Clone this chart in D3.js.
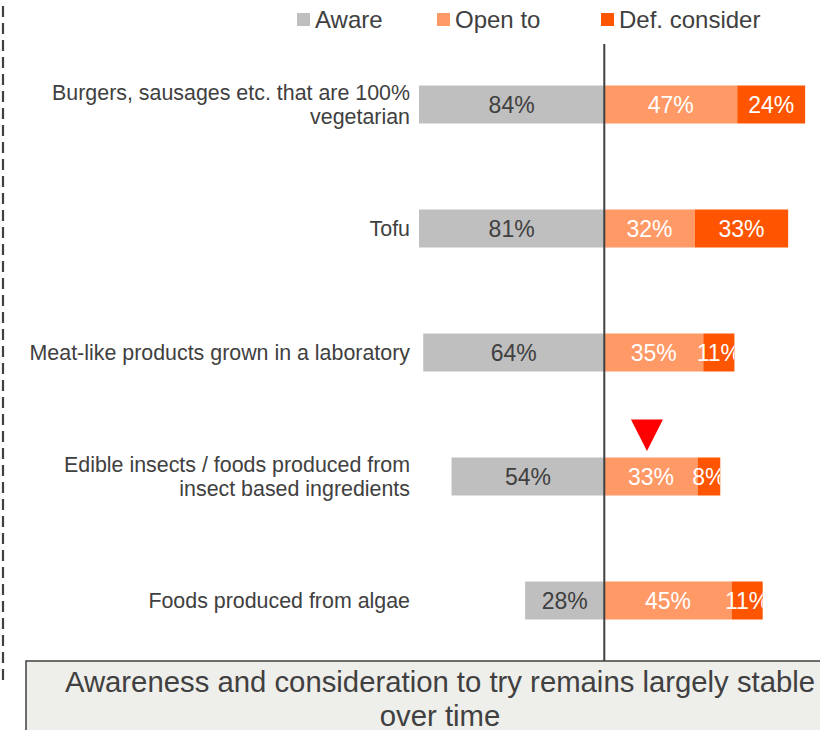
<!DOCTYPE html>
<html>
<head>
<meta charset="utf-8">
<script src="https://cdn.jsdelivr.net/npm/d3@7"></script>
<style>
  html, body { margin: 0; padding: 0; background: #ffffff; }
  svg { display: block; font-family: "Liberation Sans", Arial, sans-serif; }
</style>
</head>
<body>
<svg id="chart" width="820" height="730"></svg>
<script>
// ---- data ----
const categories = [
  ["Burgers, sausages etc. that are 100%", "vegetarian"],
  ["Tofu"],
  ["Meat-like products grown in a laboratory"],
  ["Edible insects / foods produced from", "insect based ingredients"],
  ["Foods produced from algae"]
];
const seriesNames = ["Aware", "Open to", "Def. consider"];
const aware = [84, 81, 64, 54, 28];
const openTo = [47, 32, 35, 33, 45];
const defConsider = [24, 33, 11, 8, 11];
const decreaseMarkers = [3]; // index of category with a decrease flag on "Open to"
const title = ["Awareness and consideration to try remains largely stable", "over time"];

// ---- layout ----
const colors = {"Aware": "#bfbfbf", "Open to": "#ff9966", "Def. consider": "#ff5500"};
const textColor = "#404040";
const svg = d3.select("#chart");
const catKeys = categories.map(c => c.join(" "));

const x = d3.scaleLinear().domain([-65.5, 76.5]).range([419, 820.7]).clamp(true);
const y = d3.scalePoint().domain(catKeys).range([104.5, 600.5]);
const barH = 38;

const rows = catKeys.map((k, i) => ({
  key: k, lines: categories[i], aware: aware[i], open: openTo[i], def: defConsider[i], i
}));

// dashed border at left
svg.append("line")
  .attr("x1", 3).attr("x2", 3).attr("y1", 6).attr("y2", 682)
  .attr("stroke", textColor).attr("stroke-width", 2.2)
  .attr("stroke-dasharray", "11,6");

// clip paths per row (labels clipped at bar end)
const defs = svg.append("defs");
rows.forEach(r => {
  defs.append("clipPath").attr("id", "clip" + r.i)
    .append("rect")
    .attr("x", x(-r.aware)).attr("y", y(r.key) - barH / 2)
    .attr("width", x(r.open + r.def) - x(-r.aware)).attr("height", barH);
});

const g = svg.append("g");
rows.forEach(r => {
  const cy = y(r.key);
  const segs = [
    {s: "Aware", x0: -r.aware, x1: 0, v: r.aware},
    {s: "Open to", x0: 0, x1: r.open, v: r.open},
    {s: "Def. consider", x0: r.open, x1: r.open + r.def, v: r.def}
  ];
  const rg = g.append("g");
  rg.selectAll("rect").data(segs).enter().append("rect")
    .attr("x", d => x(d.x0))
    .attr("y", cy - barH / 2)
    .attr("width", d => x(d.x1) - x(d.x0))
    .attr("height", barH)
    .attr("fill", d => colors[d.s]);
  const lg = rg.append("g").attr("clip-path", "url(#clip" + r.i + ")");
  lg.selectAll("text").data(segs).enter().append("text")
    .attr("x", d => (x(d.x0) + x(d.x1)) / 2)
    .attr("y", cy + 8)
    .attr("text-anchor", "middle")
    .attr("font-size", 23)
    .attr("fill", d => d.s === "Aware" ? textColor : "#ffffff")
    .text(d => d.v + "%");

  // category label
  const n = r.lines.length;
  const t = g.append("text")
    .attr("text-anchor", "end")
    .attr("font-size", 21.4)
    .attr("fill", textColor);
  r.lines.forEach((ln, j) => {
    t.append("tspan")
      .attr("x", 410)
      .attr("y", n === 1 ? cy + 7.5 : cy - 4.5 + j * 24)
      .text(ln);
  });
});

// decrease markers
decreaseMarkers.forEach(i => {
  const r = rows[i];
  const cx = (x(0) + x(r.open)) / 2 - 4;
  const top = y(r.key) - barH / 2 - 38;
  svg.append("path")
    .attr("d", `M${cx - 16},${top} L${cx + 16},${top} L${cx},${top + 31.5} Z`)
    .attr("fill", "#ff0000");
});

// center axis line
svg.append("line")
  .attr("x1", x(0)).attr("x2", x(0))
  .attr("y1", 44).attr("y2", 662)
  .attr("stroke", textColor).attr("stroke-width", 2);

// legend
const legendX = [297, 437, 601];
const lg = svg.append("g");
seriesNames.forEach((s, i) => {
  lg.append("rect").attr("x", legendX[i]).attr("y", 13).attr("width", 13).attr("height", 13)
    .attr("fill", colors[s]);
  lg.append("text").attr("x", legendX[i] + 18).attr("y", 27.5)
    .attr("font-size", 24).attr("fill", textColor).text(s);
});

// title box
svg.append("rect")
  .attr("x", 26).attr("y", 661).attr("width", 830).attr("height", 80)
  .attr("fill", "#eeeeea").attr("stroke", textColor).attr("stroke-width", 1.5);
const tt = svg.append("text").attr("text-anchor", "middle").attr("font-size", 29.3)
  .attr("fill", textColor);
title.forEach((ln, j) => {
  tt.append("tspan").attr("x", 440).attr("y", 692 + j * 34).text(ln);
});
</script>
</body>
</html>
